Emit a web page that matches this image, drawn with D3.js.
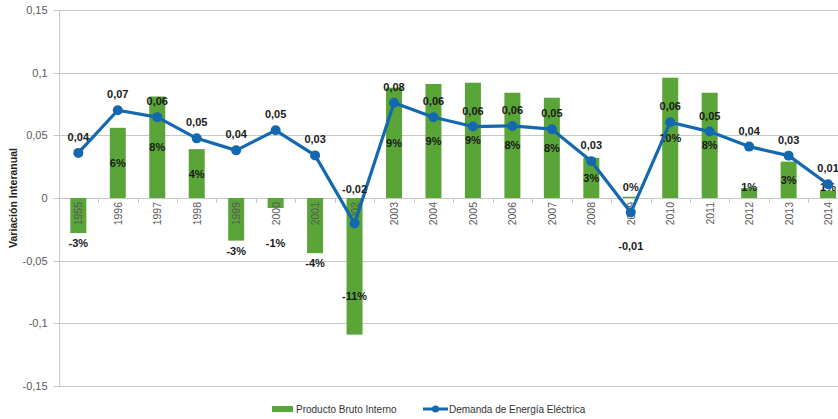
<!DOCTYPE html>
<html lang="es">

<head>
  <meta charset="UTF-8">
  <title>Variación Interanual</title>
  <script src="https://d3js.org/d3.v7.min.js"></script>
  <style>
    body {
      margin: 0;
      background: #fff;
    }

    text {
      font-family: "Liberation Sans", Arial, sans-serif;
    }
  </style>
</head>

<body>

  <div id="chart"></div>

  <script>

    // años (el primero aparece como "1955" en el original)
    const years = ['1955', '1996', '1997', '1998', '1999', '2000', '2001', '2002', '2003', '2004',
      '2005', '2006', '2007', '2008', '2009', '2010', '2011', '2012', '2013', '2014'];

    // Producto Bruto Interno (barras)
    const pbi = [-0.028, 0.056, 0.081, 0.039, -0.034, -0.008, -0.044, -0.109, 0.088, 0.091,
      0.092, 0.084, 0.080, 0.032, 0.001, 0.096, 0.084, 0.008, 0.029, 0.006];

    // Demanda de Energía Eléctrica (línea)
    const demanda = [0.036, 0.070, 0.0645, 0.0476, 0.038, 0.054, 0.034, -0.0204, 0.076, 0.0644,
      0.057, 0.0575, 0.0549, 0.0294, -0.0116, 0.0604, 0.053, 0.041, 0.0338, 0.011];

    const yTicks = [-0.15, -0.1, -0.05, 0, 0.05, 0.1, 0.15];

    const seriesNames = ['Producto Bruto Interno', 'Demanda de Energía Eléctrica'];

    const width = 838;
    const height = 419;
    const margin = { top: 10, left: 58.6, bottom: 33 };
    const plotW = 20 * 39.46;

    const green = '#5aa538';
    const blue = '#1468b0';

    const svg = d3.select('#chart').append('svg')
      .attr('width', width)
      .attr('height', height);

    const scaleX = d3.scaleBand()
      .domain(years)
      .range([margin.left, margin.left + plotW]);

    const scaleY = d3.scaleLinear()
      .domain([-0.15, 0.15])
      .range([height - margin.bottom, margin.top]);

    // coma decimal y guion normal como signo menos
    const locale = d3.formatLocale({ decimal: ',', thousands: '.', grouping: [3], currency: ['$', ''], minus: '-' });
    const fmt = v => locale.format('.2f')(v).replace(/0+$/, '').replace(/,$/, '');
    const fmtLine = v => locale.format('.2f')(v);
    const fmtPct = v => Math.round(v * 100) + '%';

    // gridlines
    svg.append('g')
      .selectAll('line')
      .data(yTicks)
      .enter()
      .append('line')
      .attr('x1', margin.left - 5)
      .attr('x2', margin.left + plotW)
      .attr('y1', d => Math.round(scaleY(d)) + 0.5)
      .attr('y2', d => Math.round(scaleY(d)) + 0.5)
      .attr('stroke', '#c8c8c8')
      .attr('stroke-width', 1);

    // vertical axis line
    svg.append('line')
      .attr('x1', Math.round(margin.left) + 0.5)
      .attr('x2', Math.round(margin.left) + 0.5)
      .attr('y1', scaleY(0.15))
      .attr('y2', scaleY(-0.15))
      .attr('stroke', '#c8c8c8');

    // y tick labels
    svg.append('g')
      .selectAll('text')
      .data(yTicks)
      .enter()
      .append('text')
      .attr('x', margin.left - 11)
      .attr('y', d => scaleY(d) + 4)
      .attr('text-anchor', 'end')
      .attr('fill', '#595959')
      .attr('font-size', 11)
      .text(d => fmt(d));

    // y axis title
    svg.append('text')
      .attr('transform', `translate(17,${scaleY(0)}) rotate(-90)`)
      .attr('text-anchor', 'middle')
      .attr('font-size', 10.5)
      .attr('font-weight', 'bold')
      .attr('fill', '#222')
      .text('Variación Interanual');

    // bars
    const barW = 16;
    svg.append('g')
      .selectAll('rect')
      .data(pbi)
      .enter()
      .append('rect')
      .attr('x', (d, i) => scaleX(years[i]) + scaleX.bandwidth() / 2 - barW / 2)
      .attr('y', d => scaleY(Math.max(0, d)))
      .attr('width', barW)
      .attr('height', d => Math.abs(scaleY(d) - scaleY(0)))
      .attr('fill', green);

    // x tick marks at category boundaries
    svg.append('g')
      .selectAll('line')
      .data(years)
      .enter()
      .append('line')
      .attr('x1', d => Math.round(scaleX(d)) + 0.5)
      .attr('x2', d => Math.round(scaleX(d)) + 0.5)
      .attr('y1', scaleY(0))
      .attr('y2', scaleY(0) + 5)
      .attr('stroke', '#c8c8c8');

    // year labels (rotated)
    svg.append('g')
      .selectAll('text')
      .data(years)
      .enter()
      .append('text')
      .attr('transform', d => `translate(${scaleX(d) + scaleX.bandwidth() / 2 + 4},${scaleY(0) + 4}) rotate(-90)`)
      .attr('text-anchor', 'end')
      .attr('fill', '#595959')
      .attr('font-size', 10.5)
      .text(d => d);

    // bar labels
    const barLabelY = d => {
      if (d >= 0) {
        return Math.min((scaleY(d) + scaleY(0)) / 2, scaleY(0.009)) + 4;
      }
      const y = scaleY(d) + 10;
      return Math.min(Math.max(y, scaleY(-0.036)), scaleY(-0.078)) + 4;
    };

    svg.append('g')
      .selectAll('text')
      .data(pbi)
      .enter()
      .append('text')
      .attr('x', (d, i) => scaleX(years[i]) + scaleX.bandwidth() / 2)
      .attr('y', d => barLabelY(d))
      .attr('text-anchor', 'middle')
      .attr('font-size', 11)
      .attr('font-weight', 'bold')
      .attr('fill', '#1a1a1a')
      .text(d => fmtPct(d));

    // line
    const line = d3.line()
      .x((d, i) => scaleX(years[i]) + scaleX.bandwidth() / 2)
      .y(d => scaleY(d));

    svg.append('path')
      .datum(demanda)
      .attr('d', line)
      .attr('fill', 'none')
      .attr('stroke', blue)
      .attr('stroke-width', 3.2)
      .attr('stroke-linejoin', 'round');

    svg.append('g')
      .selectAll('circle')
      .data(demanda)
      .enter()
      .append('circle')
      .attr('cx', (d, i) => scaleX(years[i]) + scaleX.bandwidth() / 2)
      .attr('cy', d => scaleY(d))
      .attr('r', 5)
      .attr('fill', blue);

    // line labels
    const lineLabelY = (d, i) => {
      if (d >= 0) return scaleY(d) - 12;
      if (pbi[i] < 0) return scaleY(0.0075) + 4;
      return scaleY(d) + 37;
    };

    svg.append('g')
      .selectAll('text')
      .data(demanda)
      .enter()
      .append('text')
      .attr('x', (d, i) => scaleX(years[i]) + scaleX.bandwidth() / 2)
      .attr('y', (d, i) => lineLabelY(d, i))
      .attr('text-anchor', 'middle')
      .attr('font-size', 11)
      .attr('font-weight', 'bold')
      .attr('fill', '#1a1a1a')
      .text(d => fmtLine(d));

    // legend
    const legend = svg.append('g');

    legend.append('rect')
      .attr('x', 272)
      .attr('y', 406)
      .attr('width', 21)
      .attr('height', 6)
      .attr('fill', green);

    legend.append('text')
      .attr('x', 296)
      .attr('y', 413)
      .attr('font-size', 10)
      .attr('fill', '#333')
      .text(seriesNames[0]);

    legend.append('line')
      .attr('x1', 423)
      .attr('x2', 448)
      .attr('y1', 409)
      .attr('y2', 409)
      .attr('stroke', blue)
      .attr('stroke-width', 3);

    legend.append('circle')
      .attr('cx', 435.5)
      .attr('cy', 409)
      .attr('r', 3.5)
      .attr('fill', blue);

    legend.append('text')
      .attr('x', 449)
      .attr('y', 413)
      .attr('font-size', 10)
      .attr('fill', '#333')
      .text(seriesNames[1]);

  </script>

</body>

</html>
